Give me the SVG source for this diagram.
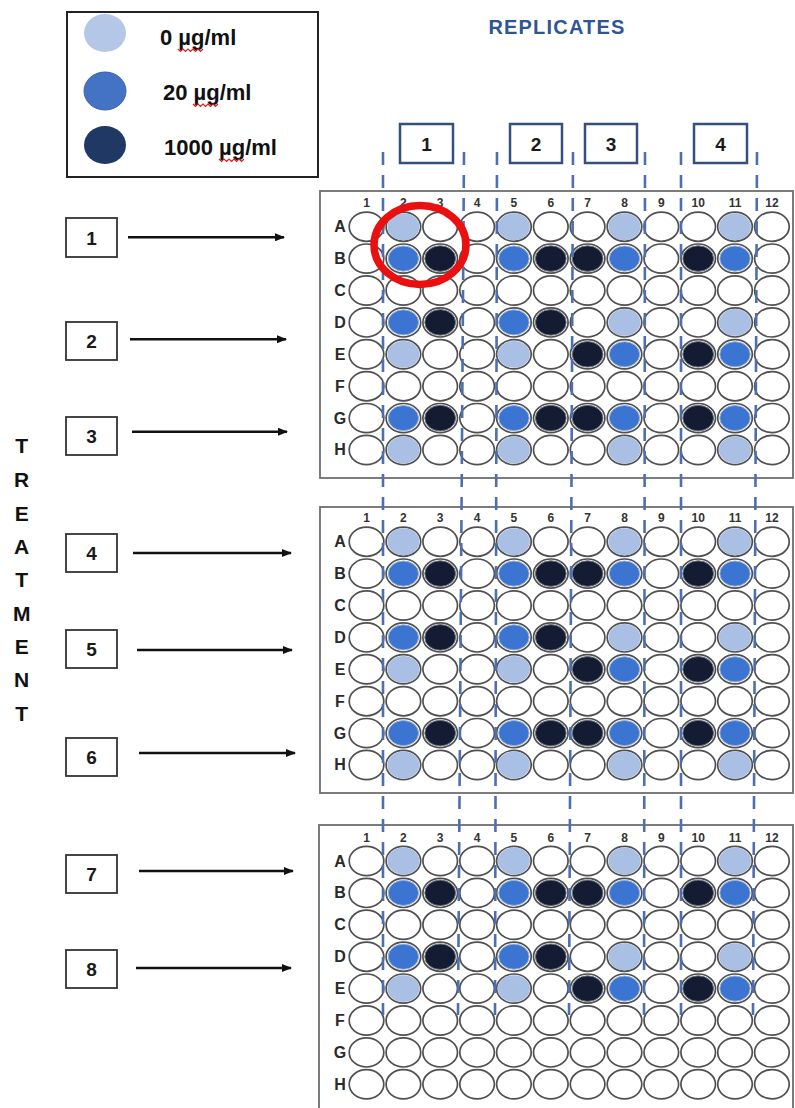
<svg xmlns="http://www.w3.org/2000/svg" width="795" height="1108" viewBox="0 0 795 1108">
<style>
 .w{fill:#fff;stroke:#505050;stroke-width:1.7}
 .lt{fill:#a9bfe4}
 .md{fill:#3c74d2;stroke:#9db3d8;stroke-width:1}
 .dk{fill:#141c33;stroke:#6d7480;stroke-width:1}
 .cn{font-family:"Liberation Sans",Arial,sans-serif;font-weight:bold;font-size:12px;fill:#333;text-anchor:middle}
 .rl{font-family:"Liberation Sans",Arial,sans-serif;font-weight:bold;font-size:16px;fill:#2a2a2a;text-anchor:middle}
 .plate{fill:#fff;stroke:#6e6e6e;stroke-width:1.8}
 .rbox{fill:#fff;stroke:#34507f;stroke-width:2.5}
 .rnum{font-family:"Liberation Sans",Arial,sans-serif;font-weight:bold;font-size:19px;fill:#1a1a1a;text-anchor:middle}
 .tbox{fill:#fff;stroke:#333;stroke-width:1.8}
 .tnum{font-family:"Liberation Sans",Arial,sans-serif;font-weight:bold;font-size:19px;fill:#1a1a1a;text-anchor:middle}
 .arr{stroke:#111;stroke-width:2.5;fill:none;marker-end:url(#ah)}
 .guide{stroke:#4d6fb0;stroke-width:2.6;stroke-dasharray:13 10;fill:none}
 .leg{font-family:"Liberation Sans",Arial,sans-serif;font-weight:bold;font-size:22px;fill:#111}
 .tr{font-family:"Liberation Sans",Arial,sans-serif;font-weight:bold;font-size:21px;fill:#111;text-anchor:middle}
 .sq{fill:none;stroke:#d02020;stroke-width:1.2}
</style>
<defs>
 <marker id="ah" viewBox="0 0 10 8" refX="9" refY="4" markerWidth="4" markerHeight="3.2" orient="auto" markerUnits="strokeWidth">
  <path d="M0,0 L10,4 L0,8 z" fill="#111"/>
 </marker>
 <ellipse id="L" class="lt" rx="16" ry="13.4"/>
 <ellipse id="M" class="md" rx="15.2" ry="12.6"/>
 <ellipse id="D" class="dk" rx="15.4" ry="12.8"/>
 <g id="wrow">
  <ellipse class="w" cx="366.5" rx="17.3" ry="14.6"/>
  <ellipse class="w" cx="403.4" rx="17.3" ry="14.6"/>
  <ellipse class="w" cx="440.2" rx="17.3" ry="14.6"/>
  <ellipse class="w" cx="477.1" rx="17.3" ry="14.6"/>
  <ellipse class="w" cx="513.9" rx="17.3" ry="14.6"/>
  <ellipse class="w" cx="550.8" rx="17.3" ry="14.6"/>
  <ellipse class="w" cx="587.6" rx="17.3" ry="14.6"/>
  <ellipse class="w" cx="624.5" rx="17.3" ry="14.6"/>
  <ellipse class="w" cx="661.3" rx="17.3" ry="14.6"/>
  <ellipse class="w" cx="698.2" rx="17.3" ry="14.6"/>
  <ellipse class="w" cx="735" rx="17.3" ry="14.6"/>
  <ellipse class="w" cx="771.9" rx="17.3" ry="14.6"/>
 </g>
 <g id="plateBase">
  <text class="cn" x="366.5" y="-19.5">1</text>
  <text class="cn" x="403.4" y="-19.5">2</text>
  <text class="cn" x="440.2" y="-19.5">3</text>
  <text class="cn" x="477.1" y="-19.5">4</text>
  <text class="cn" x="513.9" y="-19.5">5</text>
  <text class="cn" x="550.8" y="-19.5">6</text>
  <text class="cn" x="587.6" y="-19.5">7</text>
  <text class="cn" x="624.5" y="-19.5">8</text>
  <text class="cn" x="661.3" y="-19.5">9</text>
  <text class="cn" x="698.2" y="-19.5">10</text>
  <text class="cn" x="735" y="-19.5">11</text>
  <text class="cn" x="771.9" y="-19.5">12</text>
  <text class="rl" x="340" y="5.5">A</text>
  <text class="rl" x="340" y="37.4">B</text>
  <text class="rl" x="340" y="69.3">C</text>
  <text class="rl" x="340" y="101.2">D</text>
  <text class="rl" x="340" y="133.1">E</text>
  <text class="rl" x="340" y="165">F</text>
  <text class="rl" x="340" y="196.9">G</text>
  <text class="rl" x="340" y="228.8">H</text>
  <use href="#wrow" y="0"/>
  <use href="#wrow" y="31.9"/>
  <use href="#wrow" y="63.8"/>
  <use href="#wrow" y="95.7"/>
  <use href="#wrow" y="127.6"/>
  <use href="#wrow" y="159.5"/>
  <use href="#wrow" y="191.4"/>
  <use href="#wrow" y="223.3"/>
 </g>
 <g id="patAE">
  <use href="#L" x="403.4" y="0"/><use href="#L" x="513.9" y="0"/><use href="#L" x="624.5" y="0"/><use href="#L" x="735" y="0"/>
  <use href="#M" x="403.4" y="31.9"/><use href="#M" x="513.9" y="31.9"/><use href="#M" x="624.5" y="31.9"/><use href="#M" x="735" y="31.9"/>
  <use href="#D" x="440.2" y="31.9"/><use href="#D" x="550.8" y="31.9"/><use href="#D" x="587.6" y="31.9"/><use href="#D" x="698.2" y="31.9"/>
  <use href="#M" x="403.4" y="95.7"/><use href="#M" x="513.9" y="95.7"/>
  <use href="#D" x="440.2" y="95.7"/><use href="#D" x="550.8" y="95.7"/>
  <use href="#L" x="624.5" y="95.7"/><use href="#L" x="735" y="95.7"/>
  <use href="#L" x="403.4" y="127.6"/><use href="#L" x="513.9" y="127.6"/>
  <use href="#D" x="587.6" y="127.6"/><use href="#D" x="698.2" y="127.6"/>
  <use href="#M" x="624.5" y="127.6"/><use href="#M" x="735" y="127.6"/>
 </g>
 <g id="patGH">
  <use href="#M" x="403.4" y="191.4"/><use href="#M" x="513.9" y="191.4"/><use href="#M" x="624.5" y="191.4"/><use href="#M" x="735" y="191.4"/>
  <use href="#D" x="440.2" y="191.4"/><use href="#D" x="550.8" y="191.4"/><use href="#D" x="587.6" y="191.4"/><use href="#D" x="698.2" y="191.4"/>
  <use href="#L" x="403.4" y="223.3"/><use href="#L" x="513.9" y="223.3"/><use href="#L" x="624.5" y="223.3"/><use href="#L" x="735" y="223.3"/>
 </g>
</defs>
<rect width="795" height="1108" fill="#fff"/>

<g id="legend">
 <rect x="67" y="12" width="251" height="165" fill="#fff" stroke="#222" stroke-width="2"/>
 <ellipse cx="105" cy="33" rx="21" ry="19" fill="#b4c7e7"/>
 <ellipse cx="105" cy="91" rx="21" ry="19" fill="#4472c4" stroke="#3a62a8" stroke-width="1"/>
 <ellipse cx="105" cy="145" rx="21" ry="19" fill="#1f3864"/>
 <text class="leg" x="160" y="45">0 µg/ml</text>
 <text class="leg" x="163" y="100">20 µg/ml</text>
 <text class="leg" x="164" y="155">1000 µg/ml</text>
 <path class="sq" d="M178,49 l2.5,2.5 l2.5,-2.5 l2.5,2.5 l2.5,-2.5 l2.5,2.5 l2.5,-2.5 l2.5,2.5 l2.5,-2.5 l2.5,2.5 l2.5,-2.5"/>
 <path class="sq" d="M193,104 l2.5,2.5 l2.5,-2.5 l2.5,2.5 l2.5,-2.5 l2.5,2.5 l2.5,-2.5 l2.5,2.5 l2.5,-2.5 l2.5,2.5 l2.5,-2.5"/>
 <path class="sq" d="M219,159 l2.5,2.5 l2.5,-2.5 l2.5,2.5 l2.5,-2.5 l2.5,2.5 l2.5,-2.5 l2.5,2.5 l2.5,-2.5 l2.5,2.5 l2.5,-2.5"/>
</g>

<g id="title">
 <text x="557" y="34" text-anchor="middle" font-family="'Liberation Sans',Arial,sans-serif" font-weight="bold" font-size="20" letter-spacing="1.2" fill="#2f5597">REPLICATES</text>
</g>

<g id="rep1"><rect class="rbox" x="400" y="124" width="53" height="39"/><text class="rnum" x="426.5" y="150.5">1</text></g>
<g id="rep2"><rect class="rbox" x="510" y="124" width="52" height="39"/><text class="rnum" x="536" y="150.5">2</text></g>
<g id="rep3"><rect class="rbox" x="585" y="124" width="52" height="39"/><text class="rnum" x="611" y="150.5">3</text></g>
<g id="rep4"><rect class="rbox" x="694" y="124" width="53" height="39"/><text class="rnum" x="720.5" y="150.5">4</text></g>

<g id="treatment-label">
 <text class="tr" x="21.7" y="453">T</text>
 <text class="tr" x="21.7" y="487">R</text>
 <text class="tr" x="21.7" y="521">E</text>
 <text class="tr" x="21.7" y="554">A</text>
 <text class="tr" x="21.7" y="587">T</text>
 <text class="tr" x="21.7" y="621">M</text>
 <text class="tr" x="21.7" y="654">E</text>
 <text class="tr" x="21.7" y="687">N</text>
 <text class="tr" x="21.7" y="721">T</text>
</g>

<g id="trt1"><rect class="tbox" x="66" y="218" width="51" height="39"/><text class="tnum" x="91.5" y="244.5">1</text></g>
<g id="trt2"><rect class="tbox" x="66" y="322" width="51" height="38"/><text class="tnum" x="91.5" y="348">2</text></g>
<g id="trt3"><rect class="tbox" x="66" y="417" width="51" height="38"/><text class="tnum" x="91.5" y="443">3</text></g>
<g id="trt4"><rect class="tbox" x="66" y="534" width="51" height="38"/><text class="tnum" x="91.5" y="560">4</text></g>
<g id="trt5"><rect class="tbox" x="66" y="630" width="51" height="38"/><text class="tnum" x="91.5" y="656">5</text></g>
<g id="trt6"><rect class="tbox" x="66" y="738" width="51" height="38"/><text class="tnum" x="91.5" y="764">6</text></g>
<g id="trt7"><rect class="tbox" x="66" y="855" width="51" height="38"/><text class="tnum" x="91.5" y="881">7</text></g>
<g id="trt8"><rect class="tbox" x="66" y="950" width="51" height="38"/><text class="tnum" x="91.5" y="976">8</text></g>

<g id="plate1" transform="translate(0,226.7)">
 <rect class="plate" x="320" y="-35.7" width="473" height="287"/>
 <use href="#plateBase"/>
 <use href="#patAE"/>
 <use href="#patGH"/>
</g>
<g id="plate2" transform="translate(0,541.7)">
 <rect class="plate" x="320" y="-34.7" width="473" height="286"/>
 <use href="#plateBase"/>
 <use href="#patAE"/>
 <use href="#patGH"/>
</g>
<g id="plate3" transform="translate(0,861)">
 <rect class="plate" x="319" y="-36" width="474" height="300"/>
 <use href="#plateBase"/>
 <use href="#patAE"/>
</g>

<g id="guides">
 <line class="guide" x1="383" y1="152" x2="383" y2="1015"/>
 <line class="guide" x1="464" y1="152" x2="458" y2="1015"/>
 <line class="guide" x1="497" y1="152" x2="495" y2="1015"/>
 <line class="guide" x1="573" y1="152" x2="569" y2="1015"/>
 <line class="guide" x1="645" y1="152" x2="644" y2="1015"/>
 <line class="guide" x1="681" y1="152" x2="681" y2="1015"/>
 <line class="guide" x1="757" y1="152" x2="753" y2="1015"/>
</g>

<g id="connectors">
 <line class="arr" x1="128" y1="237.3" x2="284" y2="237.3"/>
 <line class="arr" x1="130" y1="339.3" x2="286" y2="339.3"/>
 <line class="arr" x1="132" y1="431.7" x2="287" y2="431.7"/>
 <line class="arr" x1="133" y1="553" x2="291" y2="553"/>
 <line class="arr" x1="137" y1="650" x2="292" y2="650"/>
 <line class="arr" x1="139" y1="753" x2="295" y2="753"/>
 <line class="arr" x1="139" y1="871" x2="293" y2="871"/>
 <line class="arr" x1="136" y1="968" x2="291" y2="968"/>
</g>

<g id="highlight">
 <ellipse cx="420" cy="245" rx="46" ry="39.5" fill="none" stroke="#ea1010" stroke-width="7.5"/>
</g>
</svg>
